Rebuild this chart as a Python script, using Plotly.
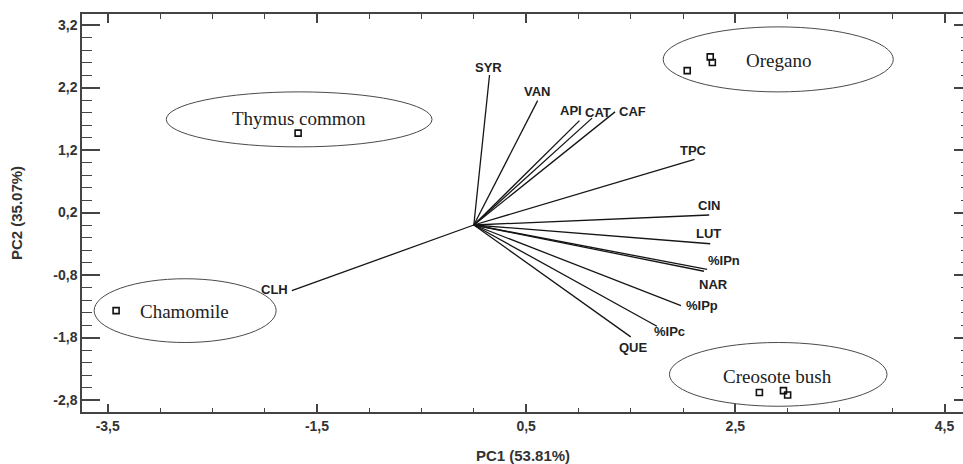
import plotly.graph_objects as go

# Variable loadings (biplot vectors)
var_names = ["SYR", "VAN", "API", "CAT", "CAF", "TPC", "CIN", "LUT",
             "%IPn", "NAR", "%IPp", "%IPc", "QUE", "CLH"]
var_pc1 = [0.15, 0.61, 1.01, 1.13, 1.35, 2.11, 2.25, 2.26,
           2.23, 2.20, 1.98, 1.75, 1.50, -1.74]
var_pc2 = [2.40, 1.99, 1.67, 1.71, 1.81, 1.05, 0.16, -0.30,
           -0.71, -0.74, -1.29, -1.62, -1.79, -1.05]

# Sample scores
sample_pc1 = [-1.68, -3.42, 2.04, 2.26, 2.28, 2.73, 2.96, 3.00]
sample_pc2 = [1.47, -1.37, 2.47, 2.69, 2.60, -2.68, -2.65, -2.72]

# Groups (ellipse centre / half-widths in data units)
group_names = ["Thymus common", "Oregano", "Chamomile", "Creosote bush"]
group_cx = [-1.67, 2.91, -2.76, 2.91]
group_cy = [1.69, 2.65, -1.37, -2.39]
group_rx = [1.27, 1.10, 0.87, 1.04]
group_ry = [0.44, 0.52, 0.51, 0.51]
group_label_x = [-1.67, 2.91, -2.77, 2.90]
group_label_y = [1.71, 2.64, -1.38, -2.42]

# Axis ticks and titles
x_tickvals = [-3.5, -1.5, 0.5, 2.5, 4.5]
x_ticktext = ["-3,5", "-1,5", "0,5", "2,5", "4,5"]
y_tickvals = [3.2, 2.2, 1.2, 0.2, -0.8, -1.8, -2.8]
y_ticktext = ["3,2", "2,2", "1,2", "0,2", "-0,8", "-1,8", "-2,8"]
x_title = "PC1 (53.81%)"
y_title = "PC2 (35.07%)"

# label pixel offsets (style)
label_shift = {
    "SYR": (-1, 8), "VAN": (-1, 9), "API": (-8, 10), "CAT": (6, 6),
    "CAF": (17, 0), "TPC": (-1, 9), "CIN": (0, 10), "LUT": (-2, 10),
    "%IPn": (17, 9), "NAR": (10, -13), "%IPp": (21, 0), "%IPc": (13, -5),
    "QUE": (3, -11), "CLH": (-17, 1),
}

XR = [-3.746, 4.686]
YR = [-2.992, 3.376]

seg_x, seg_y = [], []
for px, py in zip(var_pc1, var_pc2):
    seg_x += [0, px, None]
    seg_y += [0, py, None]

fig = go.Figure()
fig.add_trace(go.Scatter(x=seg_x, y=seg_y, mode="lines",
                         line=dict(color="#151515", width=1.3),
                         hoverinfo="skip", showlegend=False))
fig.add_trace(go.Scatter(x=sample_pc1, y=sample_pc2, mode="markers",
                         marker=dict(symbol="square-open", size=6,
                                     color="#111", line=dict(width=1.6)),
                         showlegend=False))
fig.add_trace(go.Scatter(x=[None], y=[None], xaxis="x2", yaxis="y2",
                         showlegend=False, hoverinfo="skip"))

for name, px, py in zip(var_names, var_pc1, var_pc2):
    dx, dy = label_shift[name]
    fig.add_annotation(x=px, y=py, text=name, showarrow=False,
                       xshift=dx, yshift=dy,
                       font=dict(family="Liberation Sans, Arial", size=13,
                                 color="#222", weight="bold"))

for name, cx, cy, rx, ry, lx, ly in zip(group_names, group_cx, group_cy,
                                        group_rx, group_ry,
                                        group_label_x, group_label_y):
    fig.add_shape(type="circle", xref="x", yref="y",
                  x0=cx - rx, x1=cx + rx, y0=cy - ry, y1=cy + ry,
                  line=dict(color="#4a4a4a", width=1), layer="below")
    fig.add_annotation(x=lx, y=ly, text=name, showarrow=False,
                       font=dict(family="Liberation Serif, Times New Roman",
                                 size=19, color="#222"))

tick_font = dict(family="Liberation Sans, Arial", size=14, color="#333",
                 weight="bold")
title_font = dict(family="Liberation Sans, Arial", size=15, color="#333",
                  weight="bold")
axis_line = dict(showline=True, linecolor="#444", linewidth=1.5,
                 showgrid=False, zeroline=False, tickcolor="#444",
                 tickwidth=1.5, automargin=False)

fig.update_layout(
    width=964, height=464,
    margin=dict(l=82, r=0, t=14, b=52),
    paper_bgcolor="white", plot_bgcolor="white",
    showlegend=False,
    xaxis=dict(range=XR, tickmode="array", tickvals=x_tickvals,
               ticktext=x_ticktext, ticks="inside", ticklen=8,
               minor=dict(tickmode="linear", tick0=-3.5, dtick=0.5,
                          ticks="inside", ticklen=4, tickcolor="#444",
                          tickwidth=1.2),
               tickfont=tick_font,
               title=dict(text=x_title, font=title_font, standoff=23),
               **axis_line),
    xaxis2=dict(range=XR, overlaying="x", side="top", anchor="y",
                tickmode="array", tickvals=x_tickvals, showticklabels=False,
                ticks="inside", ticklen=9,
                minor=dict(tickmode="linear", tick0=-3.5, dtick=0.5,
                           ticks="inside", ticklen=5, tickcolor="#444",
                           tickwidth=1.2),
                **axis_line),
    yaxis=dict(range=YR, tickmode="array", tickvals=y_tickvals,
               ticktext=y_ticktext, ticks="inside", ticklen=18,
               minor=dict(tickmode="linear", tick0=0.2, dtick=0.2,
                          ticks="inside", ticklen=10, tickcolor="#444",
                          tickwidth=1.2),
               tickfont=tick_font,
               title=dict(text=y_title, font=title_font, standoff=27),
               **axis_line),
    yaxis2=dict(range=YR, overlaying="y", side="right", anchor="x",
                tickmode="array", tickvals=y_tickvals, showticklabels=False,
                ticks="inside", ticklen=10,
                minor=dict(tickmode="linear", tick0=0.2, dtick=0.2,
                           ticks="inside", ticklen=3, tickcolor="#444",
                           tickwidth=1.2),
                **axis_line),
)

fig.write_html(
    "out.html",
    config={"displayModeBar": False},
    post_script="document.body.style.margin='0';"
                "document.body.style.overflow='hidden';",
)
